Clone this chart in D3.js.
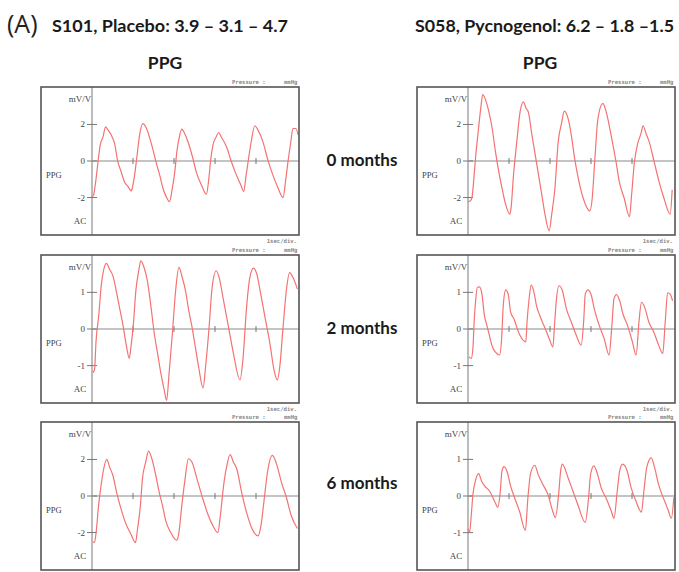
<!DOCTYPE html>
<html>
<head>
<meta charset="utf-8">
<script src="https://cdn.jsdelivr.net/npm/d3@7"></script>
<style>
  body { margin: 0; background: #fff; }
  svg { display: block; }
</style>
</head>
<body>
<svg width="679" height="572"></svg>
<script>
// waveforms: [seconds, mV/V]
var placebo0 = [[0,-1.95],[0.04,-1.85],[0.08,-1.3],[0.15,0],[0.2,0.87],[0.27,1.33],[0.33,1.87],[0.39,1.7],[0.47,1.42],[0.55,0.96],[0.63,-0.04],[0.71,-0.58],[0.79,-1.13],[0.88,-1.4],[0.96,-1.64],[0.98,-1.5],[1.04,-0.76],[1.1,0.33],[1.16,1.42],[1.24,2.05],[1.33,1.78],[1.41,1.24],[1.49,0.6],[1.57,-0.13],[1.65,-0.76],[1.73,-1.49],[1.81,-1.95],[1.89,-2.22],[1.96,-1.49],[2.02,-0.58],[2.07,0.51],[2.14,1.42],[2.19,1.75],[2.26,1.5],[2.34,1.05],[2.46,0.15],[2.54,-0.58],[2.67,-1.31],[2.79,-1.82],[2.85,-0.95],[2.89,-0.04],[2.95,0.87],[3.03,1.33],[3.09,1.56],[3.15,1.33],[3.28,0.78],[3.4,-0.04],[3.52,-0.76],[3.63,-1.31],[3.7,-1.67],[3.76,-0.76],[3.82,0.15],[3.89,1.15],[3.97,1.93],[4.05,1.69],[4.17,1.05],[4.29,0.05],[4.41,-0.76],[4.54,-1.49],[4.66,-2.0],[4.72,-1.13],[4.78,-0.04],[4.85,1.05],[4.9,1.78],[4.97,1.78],[5.03,1.42]];
var placebo2 = [[0.02,-1.19],[0.06,-1.12],[0.1,-0.31],[0.16,0.32],[0.23,1.23],[0.28,1.59],[0.35,1.79],[0.43,1.63],[0.51,1.45],[0.59,1.05],[0.67,0.59],[0.75,0.14],[0.83,-0.4],[0.91,-0.8],[0.95,-0.49],[1.01,0.14],[1.07,1.05],[1.14,1.59],[1.19,1.86],[1.27,1.68],[1.35,1.32],[1.44,0.59],[1.52,-0.13],[1.6,-0.67],[1.68,-1.21],[1.76,-1.66],[1.82,-1.95],[1.88,-1.21],[1.96,-0.13],[2.04,1.05],[2.12,1.68],[2.2,1.41],[2.28,1.05],[2.36,0.5],[2.44,0.05],[2.52,-0.49],[2.6,-1.03],[2.71,-1.61],[2.77,-1.03],[2.85,-0.04],[2.93,1.14],[3.03,1.59],[3.1,1.41],[3.21,0.77],[3.33,0.05],[3.45,-0.67],[3.61,-1.39],[3.68,-0.85],[3.77,0.59],[3.85,1.41],[3.94,1.66],[4.02,1.5],[4.1,1.05],[4.22,0.32],[4.34,-0.4],[4.44,-1.12],[4.52,-1.39],[4.58,-1.03],[4.66,0.05],[4.74,1.05],[4.82,1.54],[4.9,1.41],[5.01,1.09]];
var placebo6 = [[0.02,-2.51],[0.06,-2.55],[0.1,-2.0],[0.16,-0.53],[0.21,0.39],[0.27,1.3],[0.36,2.0],[0.43,1.58],[0.51,1.12],[0.6,0.2],[0.71,-0.72],[0.83,-1.54],[0.95,-2.09],[1.06,-2.55],[1.11,-1.82],[1.18,-0.53],[1.23,0.94],[1.31,1.85],[1.38,2.46],[1.46,2.04],[1.54,1.3],[1.64,0.2],[1.72,-0.53],[1.8,-1.36],[1.92,-2.0],[2.06,-2.42],[2.12,-2.0],[2.19,-0.53],[2.27,0.94],[2.35,2.04],[2.44,1.85],[2.56,0.94],[2.68,0.02],[2.81,-0.9],[2.93,-1.54],[3.07,-2.0],[3.13,-1.08],[3.21,0.57],[3.29,1.67],[3.37,2.26],[3.45,1.85],[3.53,1.49],[3.65,0.2],[3.77,-0.9],[3.89,-1.72],[4.05,-2.18],[4.12,-1.63],[4.2,-0.17],[4.28,1.3],[4.4,2.22],[4.5,1.76],[4.62,0.75],[4.74,-0.07],[4.86,-1.08],[5.01,-1.78]];
var pycno0 = [[0,-2.22],[0.06,-2.18],[0.1,-1.95],[0.15,-0.76],[0.19,0.33],[0.24,1.42],[0.31,2.87],[0.36,3.64],[0.43,3.33],[0.51,2.69],[0.59,1.78],[0.67,0.51],[0.75,-0.58],[0.83,-1.49],[0.91,-2.31],[1.02,-2.91],[1.05,-2.58],[1.11,-0.76],[1.19,1.05],[1.27,2.69],[1.35,3.24],[1.42,2.87],[1.47,2.69],[1.56,1.42],[1.64,0.33],[1.72,-0.76],[1.8,-1.85],[1.88,-2.95],[1.98,-3.82],[2.04,-2.95],[2.12,-1.49],[2.2,1.05],[2.28,2.05],[2.35,2.73],[2.44,2.33],[2.52,1.42],[2.6,0.15],[2.69,-0.95],[2.81,-2.04],[2.97,-2.73],[3.03,-2.04],[3.09,-0.04],[3.17,2.33],[3.29,3.15],[3.37,2.69],[3.49,1.42],[3.61,-0.04],[3.69,-1.13],[3.81,-2.04],[3.94,-3.04],[3.99,-1.85],[4.06,-0.04],[4.14,0.96],[4.22,1.51],[4.27,1.93],[4.35,1.45],[4.42,1.05],[4.54,-0.04],[4.66,-1.13],[4.78,-2.04],[4.93,-2.91],[4.98,-1.58]];
var pycno2 = [[0.02,-0.76],[0.08,-0.8],[0.12,-0.53],[0.15,0.19],[0.19,0.82],[0.23,1.14],[0.28,1.15],[0.34,0.95],[0.4,0.37],[0.46,0.1],[0.52,-0.17],[0.58,-0.44],[0.66,-0.62],[0.77,-0.71],[0.82,-0.26],[0.86,0.64],[0.92,1.07],[0.98,0.95],[1.04,0.46],[1.12,0.28],[1.23,-0.08],[1.35,-0.31],[1.41,-0.35],[1.44,0.19],[1.49,0.82],[1.54,1.2],[1.6,1.05],[1.67,0.64],[1.75,0.37],[1.85,0.1],[1.98,-0.26],[2.07,-0.49],[2.11,0.1],[2.15,0.73],[2.22,1.18],[2.3,1.05],[2.4,0.55],[2.52,0.19],[2.64,-0.17],[2.76,-0.44],[2.82,0.19],[2.86,0.95],[2.92,1.07],[3.0,0.95],[3.08,0.55],[3.2,0.1],[3.32,-0.26],[3.44,-0.71],[3.51,0.1],[3.56,0.82],[3.62,0.94],[3.7,0.77],[3.78,0.41],[3.89,0.1],[4.01,-0.35],[4.1,-0.71],[4.17,0.19],[4.23,0.73],[4.31,0.59],[4.41,0.19],[4.53,-0.08],[4.65,-0.44],[4.75,-0.67],[4.81,0.19],[4.87,0.99],[4.93,0.95],[4.99,0.77]];
var pycno6 = [[0,-0.89],[0.04,-0.98],[0.08,-0.52],[0.12,0.04],[0.18,0.41],[0.26,0.61],[0.33,0.41],[0.41,0.27],[0.53,0.13],[0.65,-0.15],[0.73,-0.31],[0.78,0.04],[0.83,0.69],[0.88,0.8],[0.96,0.64],[1.04,0.27],[1.14,-0.06],[1.26,-0.43],[1.4,-0.94],[1.46,-0.06],[1.53,0.64],[1.63,0.84],[1.71,0.59],[1.83,0.31],[1.95,0.04],[2.07,-0.43],[2.13,-0.59],[2.21,0.04],[2.26,0.69],[2.3,0.87],[2.44,0.5],[2.56,0.13],[2.68,-0.24],[2.86,-0.72],[2.94,-0.06],[2.99,0.59],[3.07,0.82],[3.17,0.55],[3.25,0.22],[3.37,-0.06],[3.5,-0.43],[3.56,-0.61],[3.64,0.13],[3.7,0.69],[3.77,0.87],[3.88,0.69],[3.98,0.22],[4.1,-0.15],[4.23,-0.44],[4.29,0.13],[4.36,0.78],[4.47,1.04],[4.55,0.78],[4.65,0.31],[4.8,-0.15],[4.88,-0.38],[4.96,-0.61],[5.02,-0.04]];

var rowLabels = ["0 months", "2 months", "6 months"];
var columnTitles = ["S101, Placebo: 3.9 \u2013 3.1 \u2013 4.7", "S058, Pycnogenol: 6.2 \u2013 1.8 \u20131.5"];
var ticksWide = [2, 0, -2];
var ticksNarrow = [1, 0, -1];
var secTicks = [1, 2, 3, 4];

var panels = [
  { data: placebo0, col: 0, row: 0, yMax: 4.05, ticks: ticksWide },
  { data: pycno0,   col: 1, row: 0, yMax: 4.05, ticks: ticksWide },
  { data: placebo2, col: 0, row: 1, yMax: 2.02, ticks: ticksNarrow },
  { data: pycno2,   col: 1, row: 1, yMax: 2.02, ticks: ticksNarrow },
  { data: placebo6, col: 0, row: 2, yMax: 4.05, ticks: ticksWide },
  { data: pycno6,   col: 1, row: 2, yMax: 2.02, ticks: ticksNarrow }
];

var svg = d3.select("svg");
var colX = [41, 417], rowY = [87, 255, 422],
  boxW = 258, boxH = 148, axisOff = 51;

// header
svg.append("text").attr("x", 7).attr("y", 33)
  .style("font", "25px 'Open Sans', sans-serif").style("fill", "#222").text("(A)");

columnTitles.forEach(function (t, i) {
  svg.append("text").attr("x", [52, 415][i]).attr("y", 32)
    .attr("textLength", [236, 259][i]).attr("lengthAdjust", "spacingAndGlyphs")
    .style("font", "bold 17.5px Lato, sans-serif").style("fill", "#1a1a1a").text(t);
  svg.append("text").attr("x", [165, 540][i]).attr("y", 69).attr("text-anchor", "middle")
    .style("font", "bold 17.5px Lato, sans-serif").style("fill", "#1a1a1a").text("PPG");
});

rowLabels.forEach(function (t, i) {
  svg.append("text").attr("x", 362).attr("y", [166, 334, 489][i]).attr("text-anchor", "middle")
    .style("font", "bold 17px Lato, sans-serif").style("fill", "#1a1a1a").text(t);
});

var line = d3.line().curve(d3.curveMonotoneX);

panels.forEach(function (p, i) {
  var x0 = colX[p.col], y0 = rowY[p.row];
  var g = svg.append("g").attr("transform", "translate(" + x0 + "," + y0 + ")");

  var x = d3.scaleLinear().domain([0, (boxW - axisOff) / 41]).range([axisOff, boxW]);
  var y = d3.scaleLinear().domain([-p.yMax, p.yMax]).range([boxH, 0]);

  g.append("clipPath").attr("id", "clip" + i)
    .append("rect").attr("width", boxW).attr("height", boxH);

  // small header / footer texts
  g.append("text").attr("x", 191).attr("y", -3)
    .style("font", "bold 5.6px 'DejaVu Sans Mono', monospace").style("fill", "#888").text("Pressure :");
  g.append("text").attr("x", 243).attr("y", -3)
    .style("font", "bold 5.6px 'DejaVu Sans Mono', monospace").style("fill", "#888").text("mmHg");
  if (p.row < 2) {
    g.append("text").attr("x", 256).attr("y", boxH + 8).attr("text-anchor", "end")
      .style("font", "bold 5.6px 'DejaVu Sans Mono', monospace").style("fill", "#888").text("1sec/div.");
  }

  // zero line and axis
  g.append("line").attr("x1", x(0)).attr("x2", boxW).attr("y1", y(0)).attr("y2", y(0))
    .attr("stroke", "#8a8a8a").attr("stroke-width", 1.2);
  g.append("line").attr("x1", x(0)).attr("x2", x(0)).attr("y1", 0).attr("y2", boxH)
    .attr("stroke", "#b5b5b5").attr("stroke-width", 1.8);

  g.selectAll(".st").data(secTicks).enter().append("line")
    .attr("x1", function (d) { return x(d); }).attr("x2", function (d) { return x(d); })
    .attr("y1", y(0) - 3).attr("y2", y(0) + 3)
    .attr("stroke", "#777").attr("stroke-width", 1);

  var yt = g.selectAll(".yt").data(p.ticks).enter().append("g")
    .attr("transform", function (d) { return "translate(0," + y(d) + ")"; });
  yt.append("line").attr("x1", x(0) - 5).attr("x2", x(0) + 5)
    .attr("stroke", "#777").attr("stroke-width", 1);
  yt.append("text").attr("x", x(0) - 7).attr("y", 3).attr("text-anchor", "end")
    .style("font", "9px 'Liberation Serif', serif").style("fill", "#444").text(function (d) { return d; });

  g.append("text").attr("x", 39).attr("y", 15).attr("text-anchor", "middle")
    .style("font", "9px 'Liberation Serif', serif").style("fill", "#444").text("mV/V");
  g.append("text").attr("x", 5).attr("y", y(0) + 17)
    .style("font", "8.5px 'Liberation Serif', serif").style("fill", "#444").text("PPG");
  g.append("text").attr("x", 39).attr("y", boxH - 11).attr("text-anchor", "middle")
    .style("font", "9px 'Liberation Serif', serif").style("fill", "#444").text("AC");

  g.append("path")
    .attr("clip-path", "url(#clip" + i + ")")
    .attr("d", line(p.data.map(function (d) { return [x(d[0]), y(d[1])]; })))
    .attr("fill", "none").attr("stroke", "#f47272").attr("stroke-width", 1.2);

  g.append("rect").attr("width", boxW).attr("height", boxH)
    .attr("fill", "none").attr("stroke", "#555").attr("stroke-width", 1.6);
});
</script>
</body>
</html>
